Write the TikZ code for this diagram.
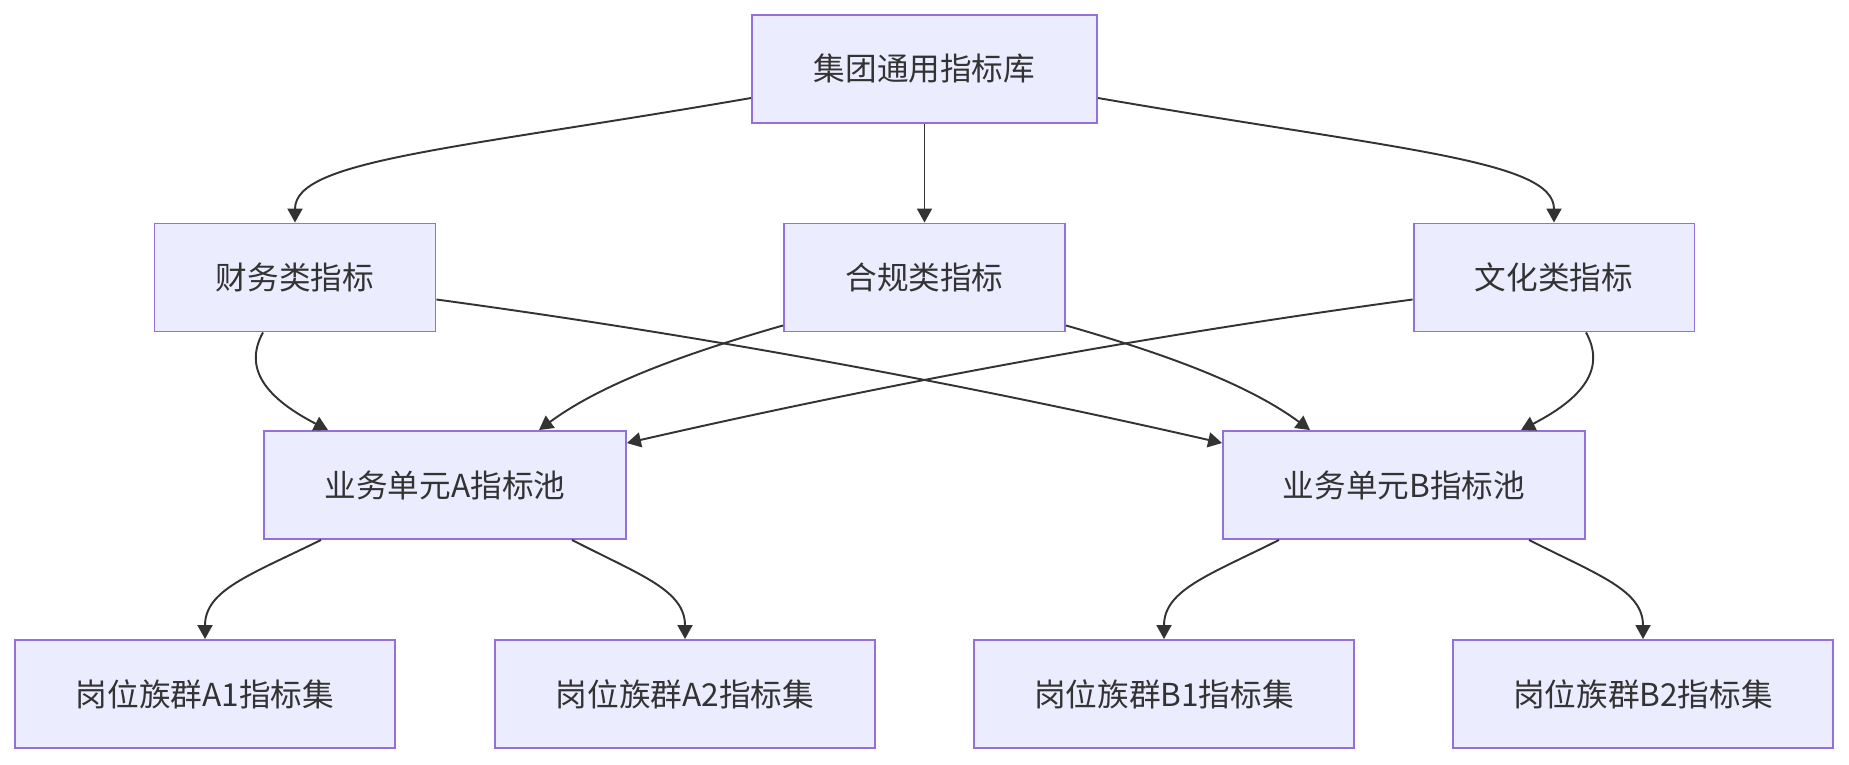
\documentclass[tikz,border=0pt]{standalone}
\usepackage{fontspec}
\usepackage{tikz}
\usepackage{xcolor}
\usetikzlibrary{arrows.meta,calc}
\newfontfamily\cjk{Noto Sans CJK SC}
\definecolor{ink}    {HTML}{333333}
\definecolor{edge}   {HTML}{9370DB}
\definecolor{boxbg}  {HTML}{ECECFF}
\tikzset{
  box/.style  ={draw=edge, fill=boxbg, line width=1.1pt,
                minimum height=2.16cm, align=center, inner sep=4pt,
                text=ink, font=\cjk\fontsize{18}{22}\selectfont},
  arr/.style  ={-{Triangle[length=0.28cm,width=0.3cm]}, line width=1.1pt,
                color=ink},
}

\begin{document}
\begin{tikzpicture}[x=0.02cm,y=-0.02cm]
  \useasboundingbox (0,0) rectangle (1849,764);

  \node[box,minimum width=6.9cm] (lib) at (924.5,69) {集团通用指标库};

  \node[box,minimum width=5.62cm] (fin)  at (295,277.5)    {财务类指标};
  \node[box,minimum width=5.62cm] (comp) at (924.5,277.5)  {合规类指标};
  \node[box,minimum width=5.62cm] (cult) at (1554,277.5)   {文化类指标};

  \node[box,minimum width=7.24cm] (unitA) at (445,485)  {业务单元A指标池};
  \node[box,minimum width=7.24cm] (unitB) at (1404,485) {业务单元B指标池};

  \node[box,minimum width=7.6cm] (famA1) at (205,694)  {岗位族群A1指标集};
  \node[box,minimum width=7.6cm] (famA2) at (685,694)  {岗位族群A2指标集};
  \node[box,minimum width=7.6cm] (famB1) at (1164,694) {岗位族群B1指标集};
  \node[box,minimum width=7.6cm] (famB2) at (1643,694) {岗位族群B2指标集};

  \draw[arr] ($(lib.west)+(0,29)$) .. controls (450,150) and (295,160) .. (fin.north);
  \draw[arr] (lib) -- (comp);
  \draw[arr] ($(lib.east)+(0,29)$) .. controls (1399,150) and (1554,160) .. (cult.north);

  \draw[arr] ($(fin.south)+(-32,0)$) .. controls (245,365) and (260,395) .. ($(unitA.north)+(-117,0)$);
  \draw[arr] ($(fin.east)+(0,22)$) .. controls (698,335) and (960,383) .. ($(unitB.north west)+(0,13)$);
  \draw[arr] ($(comp.south west)+(0,-7)$) .. controls (680,355) and (600,385) .. ($(unitA.north)+(94,0)$);
  \draw[arr] ($(comp.south east)+(0,-7)$) .. controls (1169,355) and (1249,385) .. ($(unitB.north)+(-94,0)$);
  \draw[arr] ($(cult.west)+(0,22)$) .. controls (1151,335) and (889,383) .. ($(unitA.north east)+(0,13)$);
  \draw[arr] ($(cult.south)+(32,0)$) .. controls (1604,365) and (1589,395) .. ($(unitB.north)+(117,0)$);

  \draw[arr] ($(unitA.south)+(-124,0)$) .. controls (250,575) and (205,590) .. (famA1.north);
  \draw[arr] ($(unitA.south)+(127,0)$) .. controls (640,575) and (685,590) .. (famA2.north);
  \draw[arr] ($(unitB.south)+(-125,0)$) .. controls (1209,575) and (1164,590) .. (famB1.north);
  \draw[arr] ($(unitB.south)+(125,0)$) .. controls (1598,575) and (1643,590) .. (famB2.north);
\end{tikzpicture}
\end{document}
